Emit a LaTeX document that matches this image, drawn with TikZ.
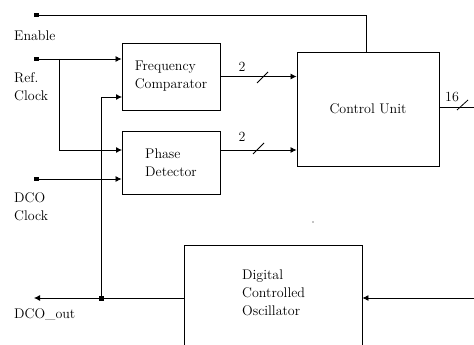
\documentclass[tikz,border=0pt]{standalone}
\usetikzlibrary{arrows.meta}
\begin{document}
\begin{tikzpicture}[x=1pt,y=-1pt,
  every node/.style={font=\fontsize{14}{18}\selectfont},
  blk/.style={draw,line width=0.9pt,inner sep=0pt,align=left},
  wire/.style={line width=0.8pt},
  arr/.style={wire,-{Latex[length=6pt,width=6pt]}},
  sqs/.style={wire,{Square[length=4.5pt,width=4.5pt]}-},
  sqa/.style={wire,{Square[length=4.5pt,width=4.5pt]}-{Latex[length=6pt,width=6pt]}},
  lbl/.style={anchor=west,inner sep=0pt,align=left},
  busn/.style={inner sep=0pt}]
\useasboundingbox (0,0) rectangle (474,345);
% blocks
\node[blk,minimum width=98pt,minimum height=67pt] (fc) at (171,76.5) {Frequency\\Comparator};
\node[blk,minimum width=98pt,minimum height=63pt] (pd) at (171,162.5) {Phase\\Detector};
\node[blk,minimum width=142pt,minimum height=114pt] (cu) at (368,109) {Control Unit};
\node[blk,minimum width=178pt,minimum height=130pt,anchor=north] (dco) at (273,245) {};
\node[lbl] (dcot) at (242,293) {Digital\\Controlled\\Oscillator};
% outside labels
\node[lbl] (len) at (14,35.5) {Enable};
\node[lbl] (lref) at (14,87) {Ref.\\Clock};
\node[lbl] (ldco) at (14,207) {DCO\\Clock};
\node[lbl] (lout) at (14,315) {DCO\_out};
% coordinates
\coordinate (en) at (34,15);
\coordinate (ref) at (34,59);
\coordinate (rb) at (59,59);
\coordinate (pdA) at (122,150);
\coordinate (dcoc) at (34,179);
\coordinate (out) at (34,298);
\coordinate (j) at (101,298);
\coordinate (fcB) at (122,97);
\coordinate (pdO) at (220,150);
\coordinate (cuo) at (474,107);
\coordinate (dcoi) at (474,298);
% connectors
\draw[sqs] (en) -| ([xshift=-2pt]cu.north);
\draw[sqa] (ref) -- (ref -| fc.west);
\draw[arr] (rb) |- (pdA);
\draw[sqa] (dcoc) -- (dcoc -| pd.west);
\draw[wire,{Latex[length=6pt,width=6pt]}-] (out) -- (out -| dco.west);
\draw[arr] (j) |- (fcB);
\node[fill,minimum size=5pt,inner sep=0pt] (jd) at (j) {};
\draw[arr] (fc.east) -- (fc.east -| cu.west);
\draw[arr] (pdO) -- (pdO -| cu.west);
\draw[wire] (cuo -| cu.east) -- (cuo);
\draw[arr] (dcoi) -- (dcoi -| dco.east);
% bus marks
\draw[wire] (257,83) -- (268,72);
\draw[wire] (253,154) -- (264,143);
\draw[wire] (457,110) -- (468,100);
\node[busn] (b1) at (242,67) {2};
\node[busn] (b2) at (242,137) {2};
\node[busn] (b3) at (452,97) {16};
\fill (313,222) circle (0.7pt);
\end{tikzpicture}
\end{document}
